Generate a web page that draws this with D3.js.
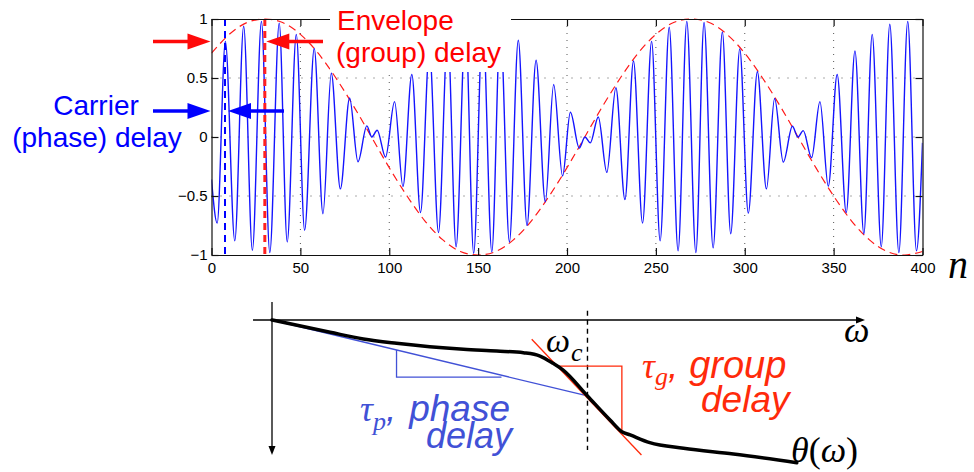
<!DOCTYPE html>
<html>
<head>
<meta charset="utf-8">
<script src="https://cdn.jsdelivr.net/npm/d3@7"></script>
<style>
  body { margin: 0; background: #fff; }
  svg { display: block; }
  text { font-family: "Liberation Sans", Arial, sans-serif; }
  .math { font-family: "Liberation Serif", "Times New Roman", serif; font-style: italic; }
  .up { font-family: "Liberation Serif", "Times New Roman", serif; font-style: normal; }
  .sans { font-family: "Liberation Sans", Arial, sans-serif; font-style: italic; }
</style>
</head>
<body>
<script>
// ---- top panel: delayed signal, extrema ----
const sigN = [0, 3.2, 7.8, 13.1, 18.1, 23.0, 28.1, 32.8, 38.1, 42.6, 47.7, 52.4, 57.8, 62.7, 67.4, 72.5,
  77.7, 82.4, 87.4, 90.2, 93.2, 97.9, 103.0, 107.7, 112.7, 117.6, 122.6, 127.7, 132.9, 137.6,
  142.9, 147.5, 152.6, 157.7, 162.5, 167.6, 172.6, 177.5, 182.6, 187.8, 192.5, 197.5, 201.9,
  206.9, 210.1, 213.1, 217.6, 222.4, 227.5, 232.6, 237.4, 242.5, 247.6, 252.4, 257.5, 262.5,
  267.4, 272.5, 277.1, 282.2, 287.4, 292.1, 297.2, 302.0, 307.1, 312.2, 316.8, 321.7, 326.8,
  329.9, 332.9, 337.6, 342.3, 347.0, 352.0, 357.1, 362.0, 367.0, 371.7, 376.8, 381.6, 386.7,
  391.7, 396.6, 400];
const sigV = [-0.36, -0.73, 0.81, -0.88, 0.94, -0.96, 0.98, -0.98, 0.965, -0.89, 0.87, -0.79, 0.75, -0.65, 0.54, -0.44,
  0.33, -0.21, 0.094, 0.0, 0.057, -0.17, 0.30, -0.42, 0.53, -0.64, 0.74, -0.81, 0.88, -0.93,
  0.96, -0.985, 0.99, -0.975, 0.95, -0.89, 0.82, -0.75, 0.65, -0.55, 0.445, -0.33, 0.21,
  -0.094, 0.0, -0.05, 0.17, -0.30, 0.417, -0.53, 0.644, -0.73, 0.81, -0.88, 0.93, -0.965,
  0.98, -0.98, 0.97, -0.94, 0.89, -0.82, 0.746, -0.645, 0.553, -0.44, 0.326, -0.213, 0.091,
  0.0, 0.054, -0.176, 0.30, -0.417, 0.53, -0.64, 0.73, -0.82, 0.87, -0.93, 0.956, -0.98,
  0.98, -0.965, -0.05];

const envN = d3.range(0, 401, 10);
const envV = [0.71, 0.87, 0.97, 1.0, 0.97, 0.87, 0.71, 0.5, 0.26, 0.0, -0.26, -0.5, -0.71, -0.87, -0.97, -1.0,
  -0.97, -0.87, -0.71, -0.5, -0.26, 0.0, 0.26, 0.5, 0.71, 0.87, 0.97, 1.0, 0.97, 0.87, 0.71,
  0.5, 0.26, 0.0, -0.26, -0.5, -0.71, -0.87, -0.97, -1.0, -0.97];

const xTicks = [0, 50, 100, 150, 200, 250, 300, 350, 400];
const yTicks = [-1, -0.5, 0, 0.5, 1];
const xGrid = [50, 100, 150, 200, 250, 300, 350];
const yGrid = [-0.5, 0, 0.5];
const carrierDelay = 7.6;
const groupDelay = 30;

// ---- bottom panel: phase response sketch (arbitrary units) ----
const phaseW = [0, 0.98, 1.54, 2.10, 2.66, 3.23, 3.79, 4.24, 4.52, 4.74, 4.91, 5.32, 5.70, 5.90, 6.04, 6.37, 6.94, 7.78, 8.85];
const phaseT = [0, -0.86, -1.33, -1.63, -1.87, -2.05, -2.17, -2.29, -2.52, -3.03, -3.50, -5.31, -6.99, -7.81, -8.04, -8.58, -8.97, -9.37, -9.98];
const omegaC = 5.32, thetaC = -5.31;
const chordTri = [[2.10, -2.10], [2.10, -4.0], [3.87, -4.0]];
const tangentW = [4.38, 6.23], tangentT = [-1.35, -9.44];
const groupTri = [[4.83, -3.22], [5.90, -3.22], [5.90, -7.69]];

const W = 974, H = 472;
const svg = d3.select("body").append("svg").attr("width", W).attr("height", H);

const x = d3.scaleLinear().domain([0, 400]).range([211.5, 922.5]);
const y = d3.scaleLinear().domain([-1, 1]).range([255, 19]);

// grid
const grid = svg.append("g").attr("stroke", "#555").attr("stroke-width", 1);
grid.selectAll(".vg").data(xGrid).enter().append("line")
  .attr("x1", d => x(d)).attr("x2", d => x(d)).attr("y1", y(1)).attr("y2", y(-1))
  .attr("stroke-dasharray", "1,6");
grid.selectAll(".hg").data(yGrid).enter().append("line")
  .attr("x1", x(0)).attr("x2", x(400)).attr("y1", d => y(d)).attr("y2", d => y(d))
  .attr("stroke-dasharray", "1,8");

svg.append("clipPath").attr("id", "plotclip").append("rect")
  .attr("x", x(0)).attr("y", y(1) - 1).attr("width", x(400) - x(0)).attr("height", y(-1) - y(1) + 2);

const plot = svg.append("g").attr("clip-path", "url(#plotclip)");

// envelope
const envLine = d3.line().x((d, i) => x(envN[i])).y(d => y(d)).curve(d3.curveNatural);
plot.append("path").datum(envV).attr("d", envLine)
  .attr("fill", "none").attr("stroke", "#ff1a1a").attr("stroke-width", 1.2).attr("stroke-dasharray", "8,5");

// signal
const sigLine = d3.line().x((d, i) => x(sigN[i])).y(d => y(d)).curve(d3.curveMonotoneX);
plot.append("path").datum(sigV).attr("d", sigLine)
  .attr("fill", "none").attr("stroke", "#1414ff").attr("stroke-width", 1.4);

// delay markers
plot.append("line").attr("x1", x(carrierDelay)).attr("x2", x(carrierDelay)).attr("y1", y(1)).attr("y2", y(-1))
  .attr("stroke", "#0000ff").attr("stroke-width", 2).attr("stroke-dasharray", "7,5");
plot.append("line").attr("x1", x(groupDelay)).attr("x2", x(groupDelay)).attr("y1", y(1)).attr("y2", y(-1))
  .attr("stroke", "#ff2020").attr("stroke-width", 3).attr("stroke-dasharray", "7,5");

// axes (ticks inward on all sides)
const axB = svg.append("g").attr("transform", `translate(0,${y(-1)})`)
  .call(d3.axisBottom(x).tickValues(xTicks).tickSize(-7).tickSizeOuter(0).tickPadding(7));
const axL = svg.append("g").attr("transform", `translate(${x(0)},0)`)
  .call(d3.axisLeft(y).tickValues(yTicks).tickSize(-7).tickSizeOuter(0).tickPadding(4).tickFormat(d3.format("")));
const axT = svg.append("g").attr("transform", `translate(0,${y(1)})`)
  .call(d3.axisTop(x).tickValues(xTicks).tickSize(-7).tickSizeOuter(0).tickFormat(""));
const axR = svg.append("g").attr("transform", `translate(${x(400)},0)`)
  .call(d3.axisRight(y).tickValues(yTicks).tickSize(-7).tickSizeOuter(0).tickFormat(""));
[axB, axL, axT, axR].forEach(a => {
  a.selectAll("path,line").attr("stroke", "#111").attr("stroke-width", 1.2);
  a.selectAll("text").attr("font-size", 15).attr("fill", "#000")
    .attr("font-family", "'Liberation Sans', Arial, sans-serif");
});

svg.append("text").attr("class", "math").attr("x", 948).attr("y", 278)
  .attr("font-size", 40).text("n");

// label box over the plot
svg.append("rect").attr("x", 330).attr("y", 0).attr("width", 181).attr("height", 72).attr("fill", "#fff");

function arrow(x0, tip, yy, color) {
  const dir = tip > x0 ? 1 : -1;
  const base = tip - dir * 23;
  svg.append("line").attr("x1", x0).attr("x2", base + dir * 1).attr("y1", yy).attr("y2", yy)
    .attr("stroke", color).attr("stroke-width", 3.5);
  svg.append("path")
    .attr("d", `M${tip},${yy}L${base},${yy - 8}L${base},${yy + 8}Z`)
    .attr("fill", color);
}

// envelope annotation
svg.append("text").attr("x", 337).attr("y", 30).attr("font-size", 28).attr("fill", "#ff0000").text("Envelope");
svg.append("text").attr("x", 336).attr("y", 62).attr("font-size", 28).attr("fill", "#ff0000").text("(group) delay");
arrow(153, x(0) - 1, 41.5, "#ff0a0a");
arrow(323, x(groupDelay) + 1.5, 41.5, "#ff0a0a");

// carrier annotation
svg.append("text").attr("x", 96).attr("y", 115).attr("font-size", 28).attr("text-anchor", "middle")
  .attr("fill", "#0000ff").text("Carrier");
svg.append("text").attr("x", 97).attr("y", 147).attr("font-size", 28).attr("text-anchor", "middle")
  .attr("fill", "#0000ff").text("(phase) delay");
arrow(153, x(0) - 1, 111, "#0000ff");
arrow(284, x(carrierDelay) + 3, 111, "#0000ff");

// ---- bottom panel ----
const xb = d3.scaleLinear().domain([0, 10]).range([272, 865]);
const yb = d3.scaleLinear().domain([0, -10]).range([320, 463]);

// axes with arrow heads
svg.append("line").attr("x1", xb(-0.32)).attr("x2", xb(10) - 6).attr("y1", yb(0)).attr("y2", yb(0))
  .attr("stroke", "#000").attr("stroke-width", 1.3);
svg.append("path").attr("d", `M${xb(10)},${yb(0)}L${xb(10) - 9},${yb(0) - 3.5}L${xb(10) - 9},${yb(0) + 3.5}Z`);
svg.append("line").attr("x1", xb(0)).attr("x2", xb(0)).attr("y1", yb(1.26)).attr("y2", yb(-9.44) - 6)
  .attr("stroke", "#000").attr("stroke-width", 1.3);
svg.append("path").attr("d", `M${xb(0)},${yb(-9.44)}L${xb(0) - 3.5},${yb(-9.44) - 9}L${xb(0) + 3.5},${yb(-9.44) - 9}Z`);

// omega_c marker
svg.append("line").attr("x1", xb(omegaC)).attr("x2", xb(omegaC)).attr("y1", yb(0.65)).attr("y2", yb(-9.09))
  .attr("stroke", "#000").attr("stroke-width", 1.4).attr("stroke-dasharray", "5,4");

// phase delay chord + slope triangle
const blue = "#4151d6";
svg.append("line").attr("x1", xb(0)).attr("y1", yb(0)).attr("x2", xb(omegaC)).attr("y2", yb(thetaC))
  .attr("stroke", blue).attr("stroke-width", 1.3);
svg.append("path").attr("d", d3.line().x(d => xb(d[0])).y(d => yb(d[1]))(chordTri))
  .attr("fill", "none").attr("stroke", blue).attr("stroke-width", 1.3);

// group delay tangent + slope triangle
const red = "#ff2a0a";
svg.append("line").attr("x1", xb(tangentW[0])).attr("y1", yb(tangentT[0]))
  .attr("x2", xb(tangentW[1])).attr("y2", yb(tangentT[1]))
  .attr("stroke", red).attr("stroke-width", 1.3);
svg.append("path").attr("d", d3.line().x(d => xb(d[0])).y(d => yb(d[1]))(groupTri))
  .attr("fill", "none").attr("stroke", red).attr("stroke-width", 1.3);

// phase curve
const phaseLine = d3.line().x((d, i) => xb(phaseW[i])).y(d => yb(d)).curve(d3.curveMonotoneX);
svg.append("path").datum(phaseT).attr("d", phaseLine)
  .attr("fill", "none").attr("stroke", "#000").attr("stroke-width", 3.5).attr("stroke-linecap", "round");

// labels
svg.append("text").attr("class", "math").attr("x", 844).attr("y", 342).attr("font-size", 36).text("ω");

const wc = svg.append("text").attr("class", "math").attr("x", 546).attr("y", 352).attr("font-size", 34);
wc.append("tspan").text("ω");
wc.append("tspan").attr("font-size", 26).attr("dy", 9).attr("dx", 1).text("c");

const th = svg.append("text").attr("x", 791).attr("y", 462).attr("font-size", 36);
th.append("tspan").attr("class", "math").text("θ");
th.append("tspan").attr("class", "up").text("(");
th.append("tspan").attr("class", "math").text("ω");
th.append("tspan").attr("class", "up").text(")");

// phase delay label (two lines in one text)
const tp = svg.append("text").attr("x", 360).attr("y", 421).attr("fill", blue);
tp.append("tspan").attr("class", "math").attr("font-size", 36).text("τ");
tp.append("tspan").attr("class", "math").attr("font-size", 26).attr("dy", 9).text("p");
tp.append("tspan").attr("class", "sans").attr("font-size", 37).attr("dy", -9).text(",");
tp.append("tspan").attr("class", "sans").attr("font-size", 37).attr("dx", 13).text("phase");
tp.append("tspan").attr("class", "sans").attr("font-size", 36).attr("x", 426).attr("dy", 27).text("delay");

// group delay label (two lines in one text)
const tg = svg.append("text").attr("x", 642).attr("y", 378).attr("fill", red);
tg.append("tspan").attr("class", "math").attr("font-size", 36).text("τ");
tg.append("tspan").attr("class", "math").attr("font-size", 26).attr("dy", 7).text("g");
tg.append("tspan").attr("class", "sans").attr("font-size", 37).attr("dy", -7).text(",");
tg.append("tspan").attr("class", "sans").attr("font-size", 38).attr("dx", 11).text("group");
tg.append("tspan").attr("class", "sans").attr("font-size", 37).attr("x", 701).attr("dy", 34).text("delay");
</script>
</body>
</html>
